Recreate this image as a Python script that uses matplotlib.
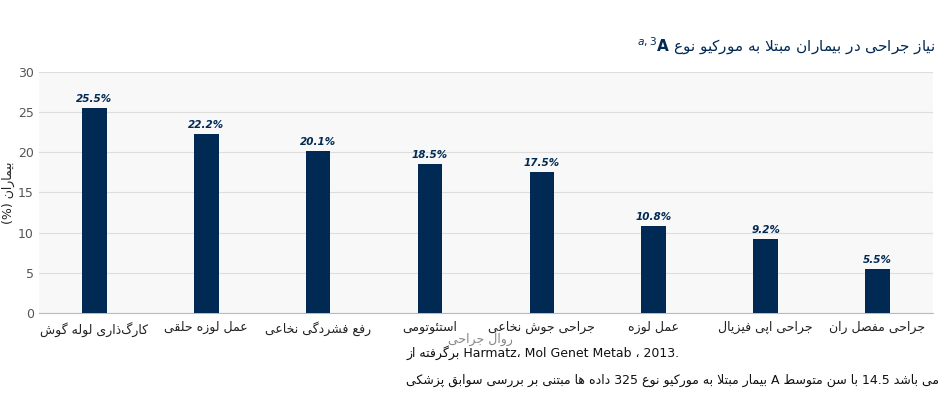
import matplotlib
matplotlib.use("Agg")
import matplotlib.pyplot as plt

categories = ["کارگذاری لوله گوش", "عمل لوزه حلقی", "رفع فشردگی نخاعی", "استئوتومی",
              "جراحی جوش نخاعی", "عمل لوزه", "جراحی اپی فیزیال", "جراحی مفصل ران"]
values = [25.5, 22.2, 20.1, 18.5, 17.5, 10.8, 9.2, 5.5]
yticks = [0, 5, 10, 15, 20, 25, 30]

# presentation forms: isolated, final, initial, medial
FORMS = {
    'ا': (0xFE8D, 0xFE8E), 'د': (0xFEA9, 0xFEAA), 'ر': (0xFEAD, 0xFEAE),
    'ز': (0xFEAF, 0xFEB0), 'و': (0xFEED, 0xFEEE), 'ژ': (0xFB8A, 0xFB8B),
    'ئ': (0xFE89, 0xFE8A, 0xFE8B, 0xFE8C),
    'ب': (0xFE8F, 0xFE90, 0xFE91, 0xFE92), 'ت': (0xFE95, 0xFE96, 0xFE97, 0xFE98),
    'ج': (0xFE9D, 0xFE9E, 0xFE9F, 0xFEA0), 'ح': (0xFEA1, 0xFEA2, 0xFEA3, 0xFEA4),
    'خ': (0xFEA5, 0xFEA6, 0xFEA7, 0xFEA8), 'س': (0xFEB1, 0xFEB2, 0xFEB3, 0xFEB4),
    'ش': (0xFEB5, 0xFEB6, 0xFEB7, 0xFEB8), 'ص': (0xFEB9, 0xFEBA, 0xFEBB, 0xFEBC),
    'ط': (0xFEC1, 0xFEC2, 0xFEC3, 0xFEC4), 'ع': (0xFEC9, 0xFECA, 0xFECB, 0xFECC),
    'ف': (0xFED1, 0xFED2, 0xFED3, 0xFED4), 'ق': (0xFED5, 0xFED6, 0xFED7, 0xFED8),
    'ل': (0xFEDD, 0xFEDE, 0xFEDF, 0xFEE0), 'م': (0xFEE1, 0xFEE2, 0xFEE3, 0xFEE4),
    'ن': (0xFEE5, 0xFEE6, 0xFEE7, 0xFEE8), 'ه': (0xFEE9, 0xFEEA, 0xFEEB, 0xFEEC),
    'ی': (0xFBFC, 0xFBFD, 0xFBFE, 0xFBFF), 'پ': (0xFB56, 0xFB57, 0xFB58, 0xFB59),
    'ک': (0xFB8E, 0xFB8F, 0xFB90, 0xFB91), 'گ': (0xFB92, 0xFB93, 0xFB94, 0xFB95),
}


def shape_word(w):
    w = w.replace('لا', '\uE000')
    out = []
    for i, c in enumerate(w):
        prev = w[i - 1] if i > 0 else None
        nxt = w[i + 1] if i + 1 < len(w) else None
        if c == '\uE000':
            jp = prev in FORMS and len(FORMS[prev]) == 4
            out.append(chr(0xFEFC if jp else 0xFEFB))
            continue
        if c not in FORMS:
            out.append(c)
            continue
        f = FORMS[c]
        jp = prev is not None and prev in FORMS and len(FORMS[prev]) == 4
        jn = len(f) == 4 and nxt is not None and (nxt in FORMS or nxt == '\uE000')
        if jp and jn:
            out.append(chr(f[3]))
        elif jp:
            out.append(chr(f[1]))
        elif jn:
            out.append(chr(f[2]))
        else:
            out.append(chr(f[0]))
    return ''.join(out)[::-1]


def is_fa(w):
    return any(ch in FORMS for ch in w)


def fa(s):
    # shape each word, then reverse word order inside runs of Persian words
    words = s.split(' ')
    out, run = [], []
    for w in words:
        if is_fa(w):
            run.append(shape_word(w))
        else:
            out.extend(run[::-1])
            run = []
            out.append(w)
    out.extend(run[::-1])
    return ' '.join(out)


plt.rcParams['font.family'] = 'DejaVu Sans'
navy = '#002a54'

fig = plt.figure(figsize=(9.4, 4.07), dpi=100)
ax = fig.add_axes([0.041, 0.231, 0.952, 0.593])
ax.set_facecolor('#f8f8f8')
x = range(len(values))
ax.bar(x, values, width=0.22, color=navy, zorder=3)
for i, v in enumerate(values):
    ax.text(i, v + 0.5, f"{v}%", ha='center', va='bottom', fontsize=7.5,
            fontstyle='italic', fontweight='bold', color=navy, zorder=4)
ax.set_xlim(-0.5, len(values) - 0.5)
ax.set_ylim(0, 30)
ax.set_yticks(yticks)
ax.tick_params(axis='y', labelsize=9, colors='#555555', length=0)
ax.tick_params(axis='x', length=0, pad=6)
ax.set_xticks(list(x))
ax.set_xticklabels([fa(c) for c in categories], fontsize=9, color='#222222')
ax.grid(axis='y', color='#dddddd', linewidth=0.8, zorder=0)
for s in ['top', 'right', 'left']:
    ax.spines[s].set_visible(False)
ax.spines['bottom'].set_color('#bbbbbb')
ax.set_ylabel("(%) " + fa("بیماران"), fontsize=9, color='#222222', labelpad=2)
ax.text(3.45, -3.3, fa("روال جراحی"), ha='center', va='center',
        fontsize=9, color='#888888')

fig.text(0.995, 0.885, r"$^{a,3}$" + r"$\it{\mathbf{A}}$ " + fa("نیاز جراحی در بیماران مبتلا به مورکیو نوع"),
         ha='right', va='center', fontsize=11, color=navy)
fig.text(0.432, 0.133, fa("برگرفته از") + " Harmatz" + "،" + " Mol Genet Metab " + "،" + " 2013.",
         ha='left', va='center', fontsize=9, color='#111111')
fig.text(0.432, 0.066, fa("داده ها مبتنی بر بررسی سوابق پزشکی 325 بیمار مبتلا به مورکیو نوع A با سن متوسط 14.5 سال می باشد"),
         ha='left', va='center', fontsize=9, color='#111111')

fig.savefig('out.png', dpi=100)
